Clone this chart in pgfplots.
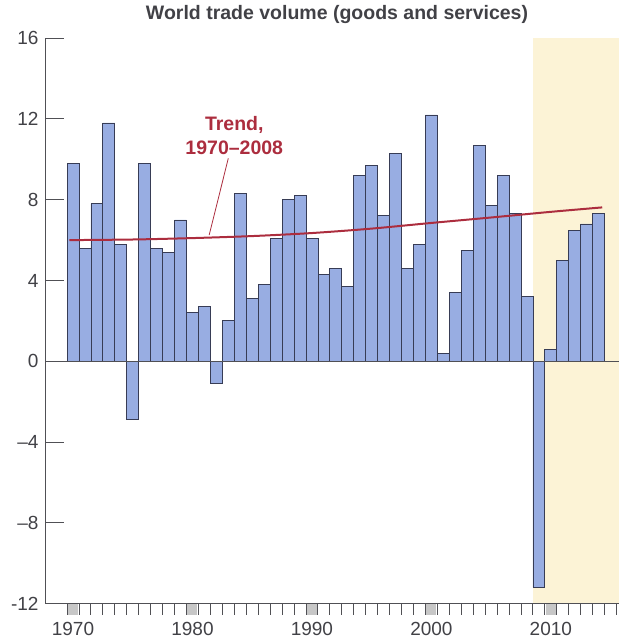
\documentclass[border=0pt]{standalone}
\usepackage{pgfplots}
\pgfplotsset{compat=1.18}
\usepackage{pgfplotstable}
\usepackage{fontspec}
\setmainfont{Liberation Sans}
\definecolor{barfill}{RGB}{152,173,226}
\definecolor{bardraw}{RGB}{55,60,85}
\definecolor{cream}{RGB}{252,243,214}
\definecolor{trend}{RGB}{172,45,62}
\definecolor{txt}{RGB}{65,65,70}
\definecolor{axc}{RGB}{80,80,85}

\pgfplotstableread{
year value
1970 9.8
1971 5.6
1972 7.8
1973 11.8
1974 5.8
1975 -2.9
1976 9.8
1977 5.6
1978 5.4
1979 7.0
1980 2.4
1981 2.7
1982 -1.1
1983 2.0
1984 8.3
1985 3.1
1986 3.8
1987 6.1
1988 8.0
1989 8.2
1990 6.1
1991 4.3
1992 4.6
1993 3.7
1994 9.2
1995 9.7
1996 7.2
1997 10.3
1998 4.6
1999 5.8
2000 12.2
2001 0.4
2002 3.4
2003 5.5
2004 10.7
2005 7.7
2006 9.2
2007 7.3
2008 3.2
2009 -11.2
2010 0.6
2011 5.0
2012 6.5
2013 6.8
2014 7.3
}\trade

\pgfplotstableread{
year value
1969.7 6.00
1975 6.03
1980 6.10
1985 6.20
1990 6.35
1995 6.57
2000 6.85
2005 7.12
2010 7.40
2014.3 7.62
}\trendtab

\begin{document}
\begin{tikzpicture}
\begin{axis}[
  x=11.95bp, y=20.2bp,
  xmin=1967.66, xmax=2015.69, ymin=-12, ymax=16,
  clip=false,
  axis y line*=left,
  axis x line=none,
  axis line style={color=axc, line width=0.9bp},
  tick align=inside,
  major tick length=19bp,
  tick style={color=axc, line width=0.9bp},
  ytick={-12,-8,-4,0,4,8,12,16},
  yticklabels={-12,–8,–4,0,4,8,12,16},
  yticklabel style={font=\fontsize{19bp}{22bp}\selectfont, text=txt, xshift=-3bp},
]
% invisible frame for the page size
\path (axis cs:1963.89,17.89) (axis cs:2015.69,-14.0);
% shaded region
\addplot[fill=cream, draw=none] coordinates {(2008.5,-12) (2015.69,-12) (2015.69,16) (2008.5,16)};
% bars
\addplot[ybar, bar width=11.95bp, fill=barfill, draw=bardraw, line width=0.8bp] table[x=year,y=value] {\trade};
% zero line
\addplot[color=axc, line width=0.9bp] coordinates {(1967.66,0) (2015.69,0)};
% trend
\addplot[trend, line width=2bp, smooth] table[x=year,y=value] {\trendtab};
% pointer
\addplot[trend, line width=0.8bp] coordinates {(1983.0,10.05) (1981.4,6.25)};
\node[text=trend, font=\bfseries\fontsize{19.5bp}{24bp}\selectfont, align=center] at (axis cs:1983.5,11.2) {Trend,\\1970–2008};
\node[text=txt, font=\bfseries\fontsize{19.5bp}{22bp}\selectfont] at (axis cs:1992.1,17.19) {World trade volume (goods and services)};
\end{axis}
\begin{axis}[
  x=11.95bp, y=20.2bp,
  xmin=1967.66, xmax=2015.69, ymin=-12, ymax=16,
  clip=false,
  axis x line*=bottom,
  axis y line=none,
  axis line style={color=axc, line width=0.9bp},
  tick align=outside,
  major tick length=11bp,
  minor tick length=11bp,
  xtick={1970,1980,1990,2000,2010},
  xticklabels={1970,1980,1990,2000,2010},
  minor xtick={1969.5,1970.5,...,2015.5},
  major tick style={color=black!22, line width=10bp},
  minor tick style={color=axc, line width=0.9bp},
  xticklabel shift=4bp,
  xticklabel style={font=\fontsize{19bp}{22bp}\selectfont, text=txt},
]
\end{axis}
\end{tikzpicture}
\end{document}
